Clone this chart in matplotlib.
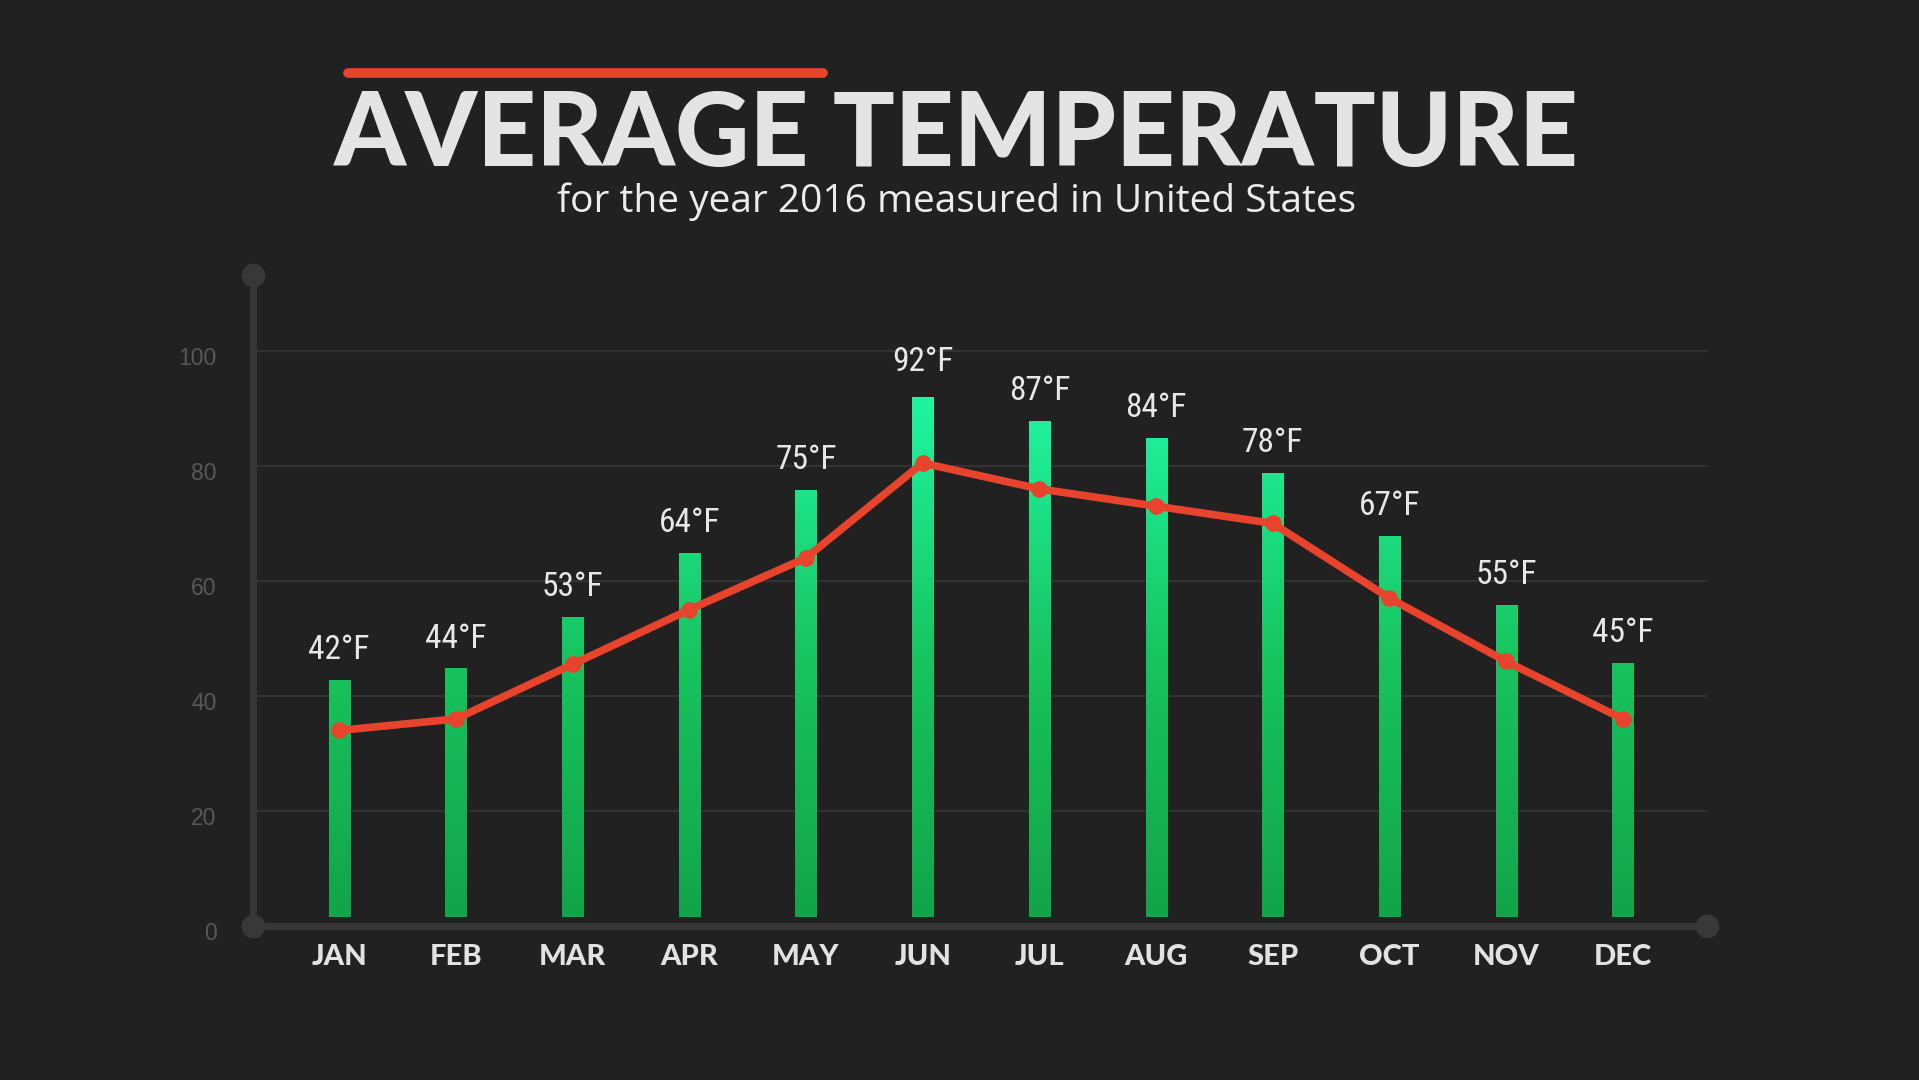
import numpy as np
import matplotlib.pyplot as plt
from matplotlib.colors import LinearSegmentedColormap
from matplotlib.lines import Line2D
from matplotlib.patches import Rectangle
import matplotlib.transforms as mtransforms

months = ["JAN", "FEB", "MAR", "APR", "MAY", "JUN",
          "JUL", "AUG", "SEP", "OCT", "NOV", "DEC"]
avg_temp = [42, 44, 53, 64, 75, 92, 87, 84, 78, 67, 55, 45]
red_line = [34, 36, 45.5, 55, 64, 80.5, 76, 73, 70, 57, 46, 36]
y_ticks = [0, 20, 40, 60, 80, 100]

title = "AVERAGE TEMPERATURE"
subtitle = "for the year 2016 measured in United States"

bg = "#212121"
axis_col = "#363636"
grid_col = "#323232"
red = "#e8432c"
green_cmap = LinearSegmentedColormap.from_list("grn", ["#12a348", "#17c45e", "#20f5a2"])

fig = plt.figure(figsize=(19.19, 10.80), dpi=100, facecolor=bg)
ax = fig.add_axes([0.1317, 0.1426, 0.8895 - 0.1317, 0.7454 - 0.1426])
ax.set_facecolor(bg)
for s in ax.spines.values():
    s.set_visible(False)

xmin, xmax = -0.74, 11.72
ymax = 113.2
ax.set_xlim(xmin, xmax)
ax.set_ylim(0, ymax)

x = np.arange(len(months))

# grid lines
for t in y_ticks[1:]:
    ax.plot([xmin + 0.04, xmax], [t, t], color=grid_col, lw=1.6, zorder=1)

# axes with round ends
ax.plot([xmin, xmin], [0, ymax], color=axis_col, lw=5, clip_on=False, zorder=2)
ax.plot([xmin, xmax], [0, 0], color=axis_col, lw=5, clip_on=False, zorder=2)
ax.plot([xmin, xmin, xmax], [ymax, 0, 0], "o", color="#383838", ms=16,
        clip_on=False, zorder=3)

# gradient bars
gap = 1.6
width = 0.18
grad = np.linspace(0, 1, 256).reshape(-1, 1)
for xi, v in zip(x, avg_temp):
    rect = Rectangle((xi - width / 2, gap), width, v + 0.8 - gap, facecolor="none",
                     edgecolor="none")
    ax.add_patch(rect)
    im = ax.imshow(grad, cmap=green_cmap, vmin=0, vmax=1, aspect="auto",
                   origin="lower", extent=[xi - width / 2, xi + width / 2, 0, 92],
                   zorder=4)
    im.set_clip_path(rect)
    ax.annotate(f"{v}°F", (xi, v + 0.8), xytext=(0, 15), textcoords="offset points",
                ha="center", va="baseline", fontsize=24, color="#e8e8e8",
                family=["Roboto Condensed", "Liberation Sans Narrow", "DejaVu Sans"],
                fontstretch="condensed", zorder=6)
ax.set_xlim(xmin, xmax)
ax.set_ylim(0, ymax)

# red line
ax.plot(x, red_line, color=red, lw=5.5, marker="o", ms=11, zorder=5)

# ticks
ax.set_xticks(x, months)
ax.set_yticks(y_ticks)
ax.tick_params(axis="x", length=0, pad=13, labelsize=21, labelcolor="#e2e2e2")
ax.tick_params(axis="y", length=0, pad=26, labelsize=16.5, labelcolor="#585858")
for lab in ax.get_xticklabels():
    lab.set_fontfamily("Lato")
    lab.set_fontweight("black")
off = mtransforms.ScaledTranslation(0, -5 / 100, fig.dpi_scale_trans)
for lab in ax.get_yticklabels():
    lab.set_fontfamily("Liberation Sans")
    lab.set_transform(lab.get_transform() + off)

# title block
fig.add_artist(Line2D([347.6 / 1919, 822.5 / 1919], [1 - 72.5 / 1080, 1 - 72.5 / 1080],
                      color=red, lw=7, solid_capstyle="round"))
fig.text(0.4985, 1 - 166 / 1080, title, ha="center", va="baseline",
         fontsize=74, fontweight="black", family="Lato", color="#e4e4e4")
fig.text(0.4985, 1 - 212 / 1080, subtitle, ha="center", va="baseline",
         fontsize=28, family="Open Sans", color="#ececec")

fig.savefig("out.png", dpi=100, facecolor=bg)
